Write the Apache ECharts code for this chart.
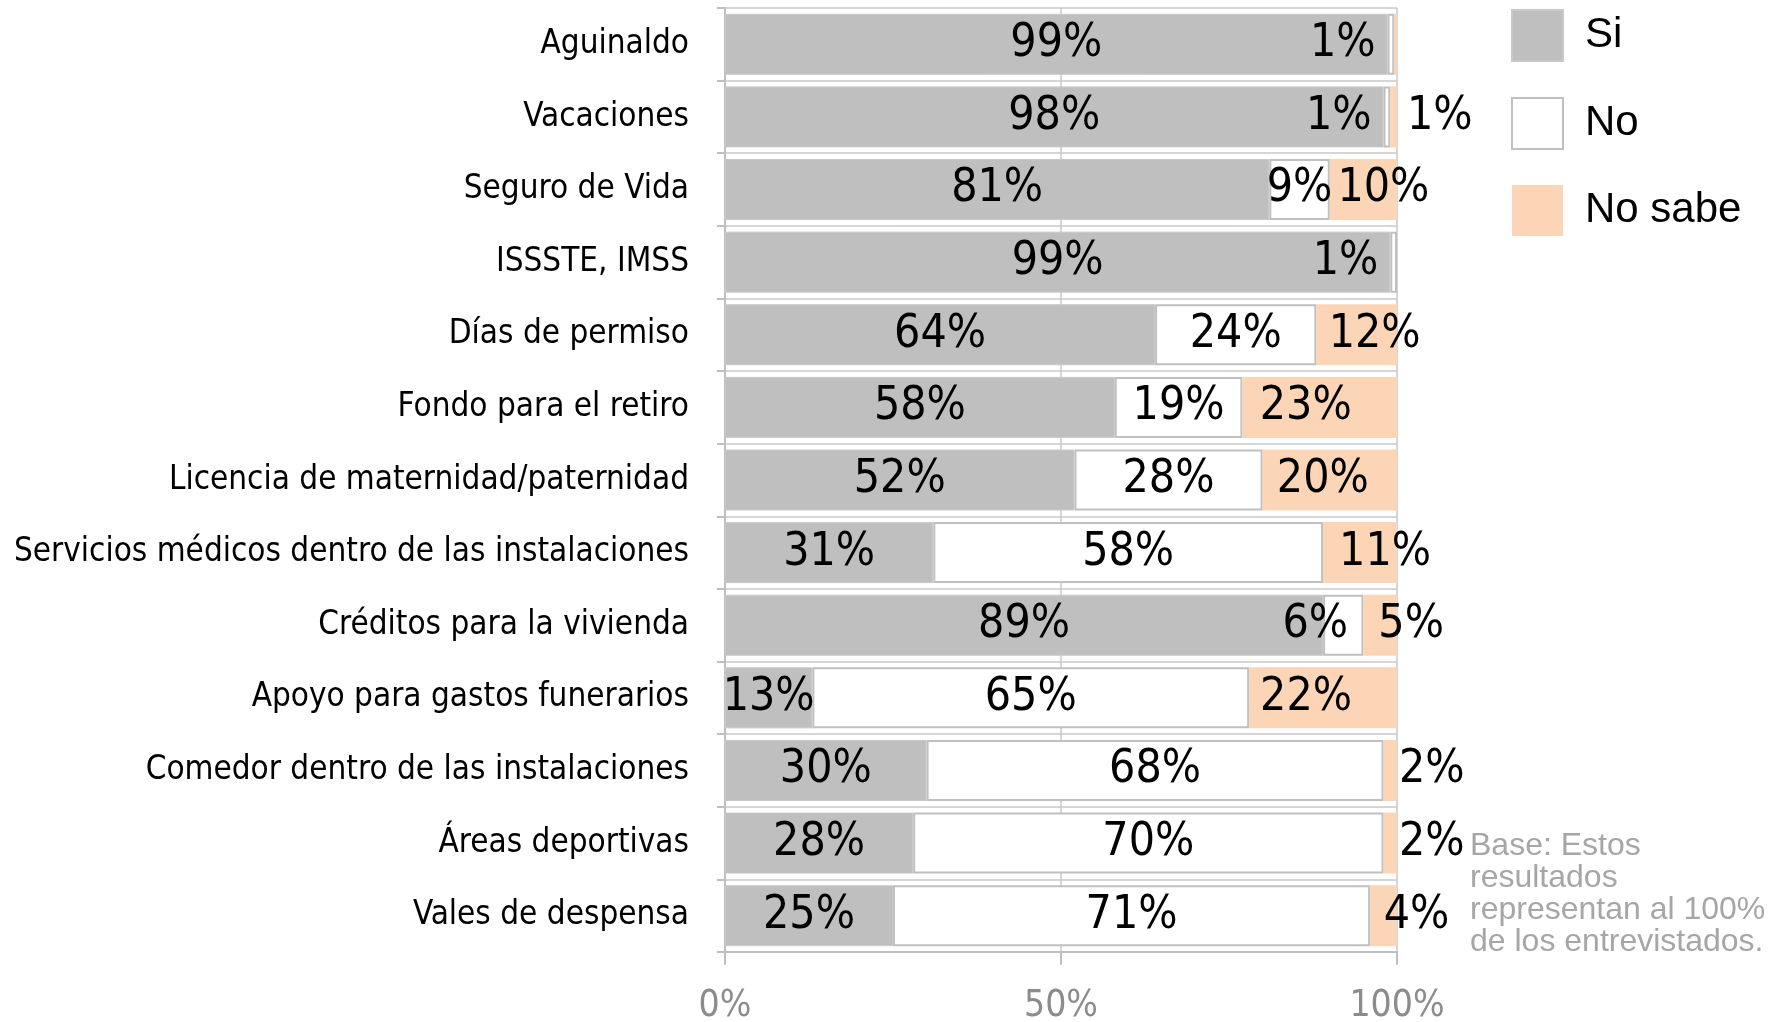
<!DOCTYPE html>
<html lang="es">
<head>
  <meta charset="UTF-8" />
  <title>Prestaciones</title>
  <script src="https://cdn.jsdelivr.net/npm/echarts@6.0.0/dist/echarts.min.js"></script>
  <style>
    html, body { margin: 0; padding: 0; background: #fff; }
  </style>
</head>
<body>
  <div id="main" style="width: 1777px; height: 1022px;"></div>

  <script>
    const categories = [
      "Aguinaldo",
      "Vacaciones",
      "Seguro de Vida",
      "ISSSTE, IMSS",
      "Días de permiso",
      "Fondo para el retiro",
      "Licencia de maternidad/paternidad",
      "Servicios médicos dentro de las instalaciones",
      "Créditos para la vivienda",
      "Apoyo para gastos funerarios",
      "Comedor dentro de las instalaciones",
      "Áreas deportivas",
      "Vales de despensa"
    ];
    const seriesNames = ["Si", "No", "No sabe"];
    const siValues = [98.6, 98, 81, 99, 64, 58, 52, 31, 89, 13, 30, 28, 25];
    const noValues = [1, 1, 9, 1, 24, 19, 28, 58, 6, 65, 68, 70, 71];
    const noSabeValues = [0.4, 1, 10, 0, 12, 23, 20, 11, 5, 22, 2, 2, 4];
    const xTicks = [0, 50, 100];

    const myChart = echarts.init(document.getElementById("main"));

    const labelFont = "DejaVu Sans Condensed";
    const pct = (p) => (Math.round(p.value) > 0 ? Math.round(p.value) + "%" : "");

    // etiquetas movidas a mano como en el original
    const noLabelTweaks = {
      0: { position: "left", distance: 12 },
      1: { position: "left", distance: 12 },
      3: { position: "left", distance: 12 },
      8: { offset: [-28, 0] }
    };
    const nsLabelTweaks = {
      1: { position: "right", distance: 10 },
      2: { offset: [20, 0] },
      4: { offset: [18, 0] },
      5: { offset: [-14, 0] },
      6: { offset: [-7, 0] },
      7: { offset: [25, 0] },
      8: { offset: [31, 0] },
      9: { offset: [-17, 0] },
      10: { position: "right", distance: 2 },
      11: { position: "right", distance: 2 },
      12: { offset: [33, 0] }
    };
    const withTweaks = (vals, tweaks) =>
      vals.map((v, i) => (tweaks[i] ? { value: v, label: tweaks[i] } : v));

    const baseLabel = {
      show: true,
      position: "inside",
      formatter: pct,
      fontFamily: labelFont,
      fontSize: 46,
      color: "#000",
      padding: [16, 0, 0, 0]
    };

    const option = {
      animation: false,
      grid: { left: 725, right: 380, top: 8, bottom: 70, outerBoundsMode: "none" },
      legend: {
        data: seriesNames,
        orient: "vertical",
        left: 1506,
        top: 4,
        icon: "rect",
        itemWidth: 51,
        itemHeight: 51,
        itemGap: 35,
        textStyle: {
          fontFamily: "Liberation Sans",
          fontSize: 42,
          color: "#000",
          padding: [0, 0, 0, 17]
        }
      },
      xAxis: {
        type: "value",
        min: xTicks[0],
        max: xTicks[xTicks.length - 1],
        interval: xTicks[1] - xTicks[0],
        axisLine: { show: true, lineStyle: { color: "#bfbfbf", width: 2 } },
        axisTick: { show: true, length: 13, lineStyle: { color: "#bfbfbf", width: 2 } },
        splitLine: { show: true, lineStyle: { color: "#c8c8c8", width: 1.5 } },
        axisLabel: {
          formatter: "{value}%",
          fontFamily: labelFont,
          fontSize: 37,
          color: "#8c8c8c",
          margin: 36
        }
      },
      yAxis: {
        type: "category",
        inverse: true,
        data: categories,
        axisLine: { show: true, lineStyle: { color: "#bfbfbf", width: 2 } },
        axisTick: { show: true, length: 8, lineStyle: { color: "#bfbfbf", width: 2 } },
        splitLine: { show: true, lineStyle: { color: "#c8c8c8", width: 1.5 } },
        axisLabel: {
          fontFamily: labelFont,
          fontSize: 33,
          color: "#000",
          margin: 36,
          padding: [7, 0, 0, 0]
        }
      },
      graphic: [
        {
          type: "text",
          left: 1470,
          top: 830,
          style: {
            text: "Base: Estos\nresultados\nrepresentan al 100%\nde los entrevistados.",
            font: "32px 'Liberation Sans'",
            fill: "#a6a6a6",
            lineHeight: 32
          }
        }
      ],
      series: [
        {
          name: seriesNames[0],
          type: "bar",
          stack: "total",
          barCategoryGap: "16%",
          itemStyle: { color: "#bfbfbf", borderColor: "#c9c9c9", borderWidth: 1 },
          label: baseLabel,
          emphasis: { disabled: true },
          data: siValues
        },
        {
          name: seriesNames[1],
          type: "bar",
          stack: "total",
          itemStyle: { color: "#ffffff", borderColor: "#c0c0c0", borderWidth: 2 },
          label: baseLabel,
          emphasis: { disabled: true },
          data: withTweaks(noValues, noLabelTweaks)
        },
        {
          name: seriesNames[2],
          type: "bar",
          stack: "total",
          itemStyle: { color: "#fbd5b5" },
          label: baseLabel,
          emphasis: { disabled: true },
          data: withTweaks(noSabeValues, nsLabelTweaks)
        }
      ]
    };

    myChart.setOption(option);
  </script>
</body>
</html>
